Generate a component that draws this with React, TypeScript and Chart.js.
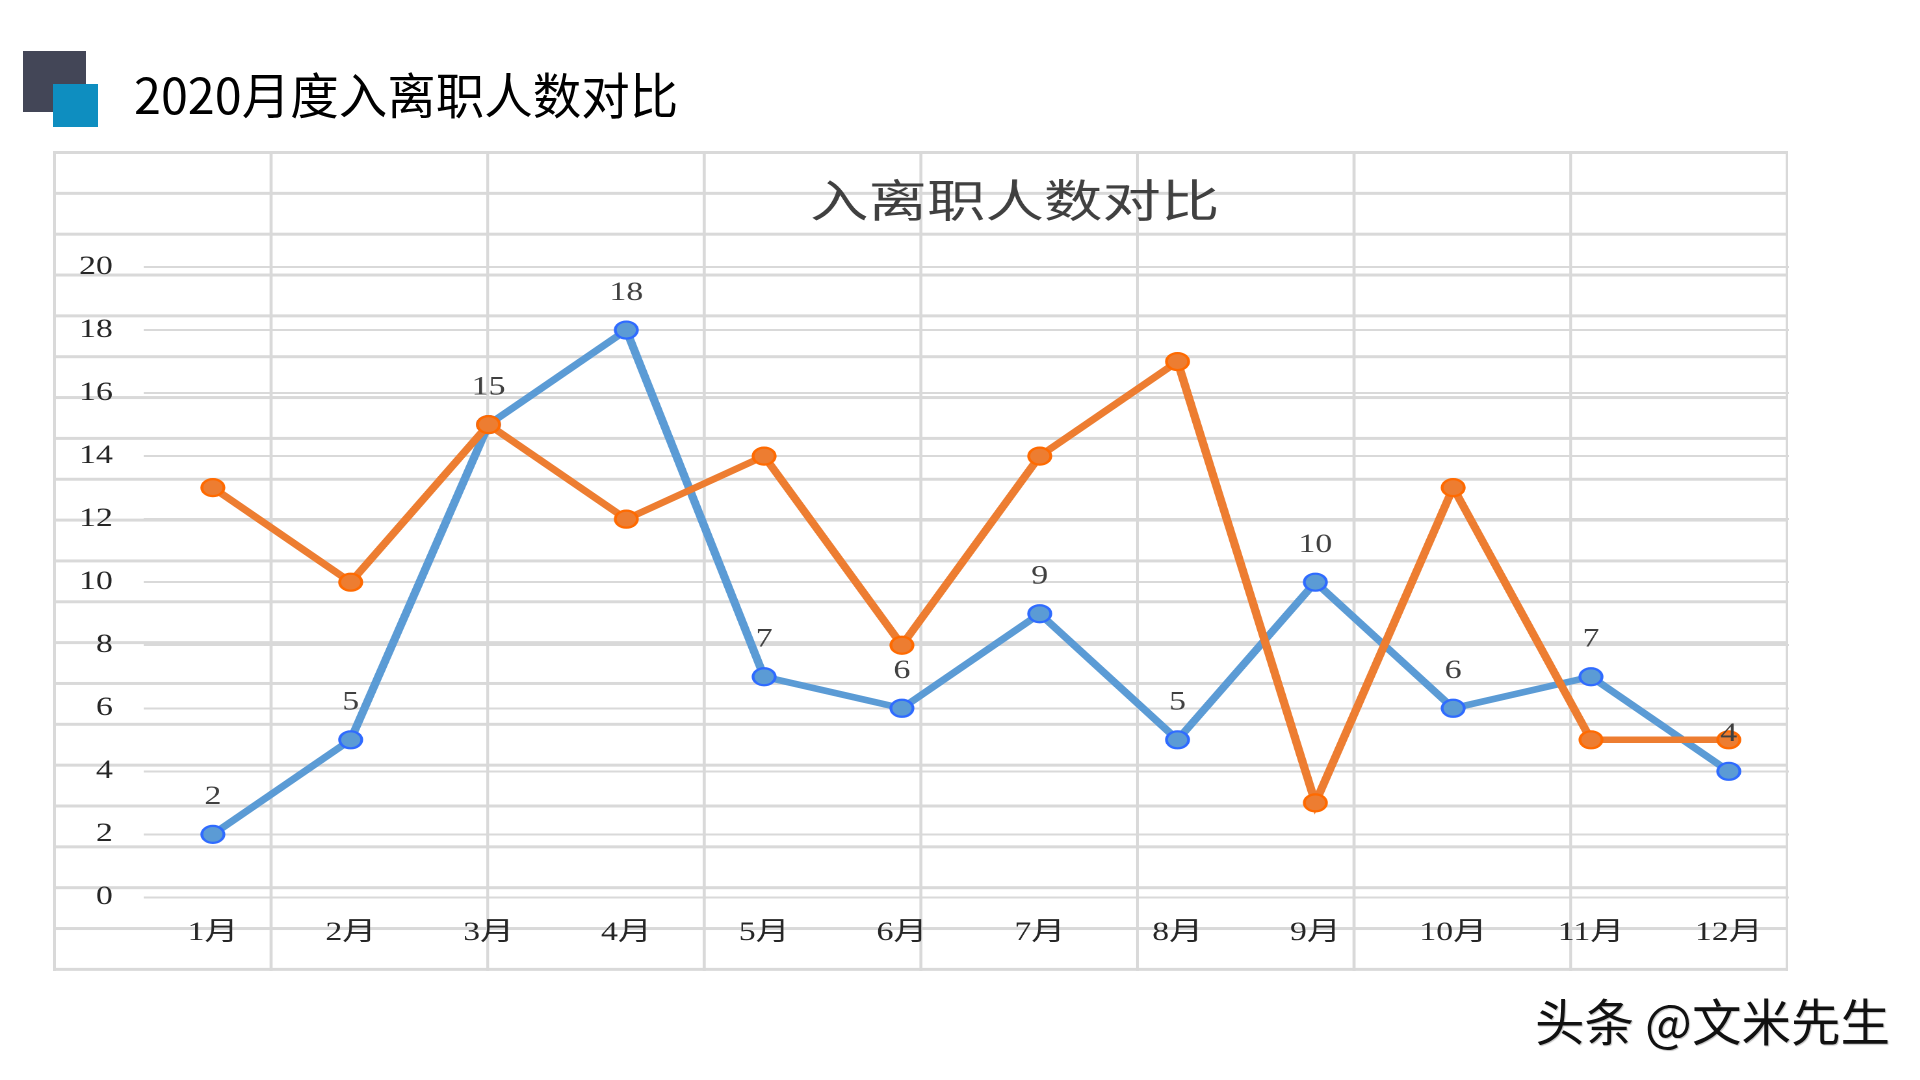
import React, { useEffect, useRef } from "react";
import { Chart, registerables } from "chart.js";

Chart.register(...registerables);

// ---- data ----
const months = ["1月", "2月", "3月", "4月", "5月", "6月", "7月", "8月", "9月", "10月", "11月", "12月"];
const hires = [2, 5, 15, 18, 7, 6, 9, 5, 10, 6, 7, 4];
const leaves = [13, 10, 15, 12, 14, 8, 14, 17, 3, 13, 5, 5];
const seriesNames = ["入职人数", "离职人数"];
const yMin = 0;
const yMax = 20;
const yStep = 2;
const pageTitle = "2020月度入离职人数对比";
const chartTitle = "入离职人数对比";
const watermark = "头条 @文米先生";

// ---- styling ----
const STRETCH = 1.3;
const CANVAS_W = 1352;
const CANVAS_H = 823;
const SERIF = '"Liberation Serif", "Noto Sans CJK SC", serif';
const SANS_CJK = '"Noto Sans CJK SC", "Noto Sans", sans-serif';
const GRID = "#D9D9D9";

export default function App() {
  const ref = useRef<HTMLCanvasElement>(null);

  useEffect(() => {
    if (!ref.current) return;

    const titlePlugin = {
      id: "excelTitle",
      afterDraw(chart: any) {
        const ctx = chart.ctx;
        ctx.save();
        ctx.font = `45px ${SANS_CJK}`;
        ctx.fillStyle = "#404040";
        ctx.textAlign = "center";
        ctx.textBaseline = "middle";
        ctx.fillText(chartTitle, 739, 48);
        ctx.restore();
      },
    };

    const labelPlugin = {
      id: "pointLabels",
      afterDatasetsDraw(chart: any) {
        const meta = chart.getDatasetMeta(0);
        const ctx = chart.ctx;
        ctx.save();
        ctx.font = `26px ${SERIF}`;
        ctx.fillStyle = "#404040";
        ctx.textAlign = "center";
        ctx.textBaseline = "middle";
        meta.data.forEach((pt: any, i: number) => {
          ctx.fillText(String(hires[i]), pt.x, pt.y - 37);
        });
        ctx.restore();
      },
    };

    const chart = new Chart(ref.current, {
      type: "line",
      data: {
        labels: months,
        datasets: [
          {
            label: seriesNames[0],
            data: hires,
            borderColor: "#5B9BD5",
            backgroundColor: "#5B9BD5",
            borderWidth: 6.5,
            pointRadius: 8.5,
            pointBorderWidth: 2.2,
            pointBackgroundColor: "#5B9BD5",
            pointBorderColor: "#2F6BFF",
            tension: 0,
            order: 1,
          },
          {
            label: seriesNames[1],
            data: leaves,
            borderColor: "#ED7D31",
            backgroundColor: "#ED7D31",
            borderWidth: 6.5,
            pointRadius: 8.5,
            pointBorderWidth: 2.2,
            pointBackgroundColor: "#ED7D31",
            pointBorderColor: "#FF6A00",
            tension: 0,
            order: 0,
          },
        ],
      },
      options: {
        animation: false,
        responsive: false,
        devicePixelRatio: 2,
        layout: { padding: { top: 115, bottom: 0, left: 0, right: 0 } },
        plugins: {
          legend: { display: false },
          tooltip: { enabled: false },
          title: { display: false },
        },
        scales: {
          x: {
            offset: true,
            grid: { display: false },
            border: { display: false },
            ticks: {
              font: { size: 26, family: SERIF },
              color: "#262626",
              padding: 12,
              maxRotation: 0,
              autoSkip: false,
            },
            afterFit(scale: any) {
              scale.height = 77.6;
            },
          },
          y: {
            min: yMin,
            max: yMax,
            ticks: {
              stepSize: yStep,
              padding: 24,
              font: { size: 26, family: SERIF },
              color: "#262626",
            },
            grid: { color: GRID, lineWidth: 2, drawTicks: false },
            border: { display: false },
            afterFit(scale: any) {
              scale.width = 69.2;
            },
          },
        },
      },
      plugins: [labelPlugin, titlePlugin],
    });

    return () => chart.destroy();
  }, []);

  return (
    <div
      style={{
        position: "absolute",
        left: 0,
        top: 0,
        width: 1920,
        height: 1080,
        background: "#fff",
        overflow: "hidden",
      }}
    >
      {/* spreadsheet cell grid behind the chart */}
      <div
        style={{
          position: "absolute",
          left: 53,
          top: 151,
          width: 8 * 216.6 + 2.5,
          height: 20 * 40.85 + 2.5,
          backgroundImage: `linear-gradient(to right, ${GRID} 0px, ${GRID} 2.5px, transparent 2.5px), linear-gradient(to bottom, ${GRID} 0px, ${GRID} 2.5px, transparent 2.5px)`,
          backgroundSize: "216.6px 100%, 100% 40.85px",
        }}
      />
      {/* stretched chart */}
      <div
        style={{
          position: "absolute",
          left: 54,
          top: 152,
          width: 1735,
          height: CANVAS_H,
          overflow: "hidden",
        }}
      >
        <div
          style={{
            width: CANVAS_W,
            height: CANVAS_H,
            transform: `scaleX(${STRETCH})`,
            transformOrigin: "0 0",
          }}
        >
          <canvas
            ref={ref}
            width={CANVAS_W}
            height={CANVAS_H}
            style={{ display: "block", width: CANVAS_W, height: CANVAS_H }}
          />
        </div>
      </div>
      {/* page header */}
      <div style={{ position: "absolute", left: 23, top: 51, width: 63, height: 61, background: "#434657" }} />
      <div style={{ position: "absolute", left: 53, top: 84, width: 45, height: 43, background: "#0E8EC0" }} />
      <div
        style={{
          position: "absolute",
          left: 134,
          top: 69,
          fontFamily: SANS_CJK,
          fontSize: 48.5,
          lineHeight: "48.5px",
          color: "#000",
          whiteSpace: "nowrap",
        }}
      >
        {pageTitle}
      </div>
      <div
        style={{
          position: "absolute",
          left: 1535,
          top: 995,
          fontFamily: SANS_CJK,
          fontSize: 49.5,
          lineHeight: "49.5px",
          color: "#111",
          whiteSpace: "nowrap",
          textShadow: "1px 1px 1px rgba(0,0,0,0.25)",
        }}
      >
        {watermark}
      </div>
    </div>
  );
}
